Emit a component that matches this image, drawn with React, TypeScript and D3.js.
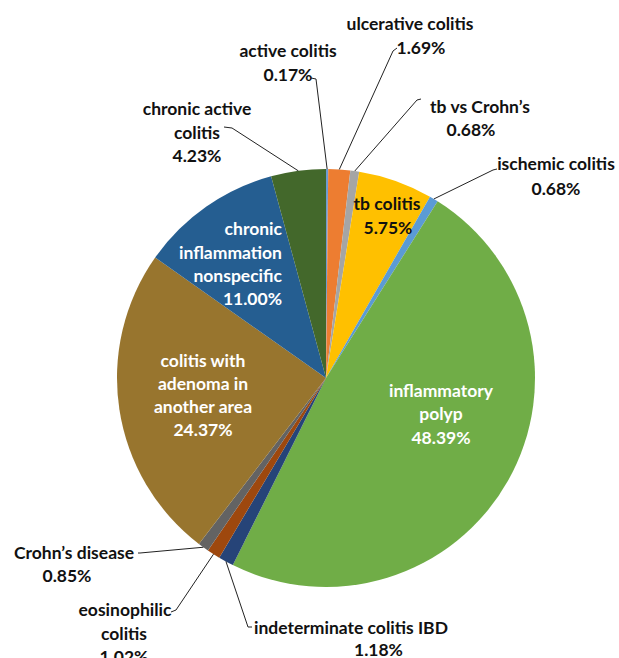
import React from "react";
import * as d3 from "d3";

const categories = [
  "active colitis",
  "ulcerative colitis",
  "tb vs Crohn’s",
  "tb colitis",
  "ischemic colitis",
  "inflammatory polyp",
  "indeterminate colitis IBD",
  "eosinophilic colitis",
  "Crohn’s disease",
  "colitis with adenoma in another area",
  "chronic inflammation nonspecific",
  "chronic active colitis",
];
const values = [0.17, 1.69, 0.68, 5.75, 0.68, 48.39, 1.18, 1.02, 0.85, 24.37, 11.0, 4.23];
const valueLabels = ["0.17%", "1.69%", "0.68%", "5.75%", "0.68%", "48.39%", "1.18%", "1.02%", "0.85%", "24.37%", "11.00%", "4.23%"];
const colors = ["#6E9BD2", "#ED7D31", "#A5A5A5", "#FFC000", "#5B9BD5", "#70AD47", "#264478", "#9E480E", "#636363", "#98752E", "#255E91", "#43682B"];

// label layout (text lines positions, leader hooks)
type Lab = {
  lines: string[];
  xs: number[];
  ys: number[];
  anchor: string;
  fill: string;
  hook?: [number, number][];
};
const layout: Lab[] = [
  { lines: ["active colitis", "0.17%"], xs: [288, 288], ys: [50, 74], anchor: "middle", fill: "#111", hook: [[311, 78], [316, 79]] },
  { lines: ["ulcerative colitis", "1.69%"], xs: [410, 421], ys: [23, 47], anchor: "middle", fill: "#111", hook: [[397, 48], [393, 51]] },
  { lines: ["tb vs Crohn’s", "0.68%"], xs: [480, 471], ys: [106, 129], anchor: "middle", fill: "#111", hook: [[421, 99], [417, 100]] },
  { lines: ["tb colitis", "5.75%"], xs: [387, 388], ys: [203, 227], anchor: "middle", fill: "#111" },
  { lines: ["ischemic colitis", "0.68%"], xs: [556, 556], ys: [163, 188], anchor: "middle", fill: "#111", hook: [[497, 169], [493, 170]] },
  { lines: ["inflammatory", "polyp", "48.39%"], xs: [441, 441, 441], ys: [390, 413, 437], anchor: "middle", fill: "#fff" },
  { lines: ["indeterminate colitis IBD", "1.18%"], xs: [254, 354], ys: [627, 649], anchor: "start", fill: "#111", hook: [[252, 627], [248, 627]] },
  { lines: ["eosinophilic", "colitis", "1.02%"], xs: [125, 124, 124], ys: [609, 633, 656], anchor: "middle", fill: "#111", hook: [[171, 612], [176, 610]] },
  { lines: ["Crohn’s disease", "0.85%"], xs: [74, 67], ys: [552, 575], anchor: "middle", fill: "#111", hook: [[138, 553], [140, 553]] },
  { lines: ["colitis with", "adenoma in", "another area", "24.37%"], xs: [203, 203, 203, 203], ys: [360, 383, 406, 429], anchor: "middle", fill: "#fff" },
  { lines: ["chronic", "inflammation", "nonspecific", "11.00%"], xs: [282, 282, 282, 282], ys: [228, 252, 275, 298], anchor: "end", fill: "#fff" },
  { lines: ["chronic active", "colitis", "4.23%"], xs: [197, 197, 197], ys: [108, 132, 155], anchor: "middle", fill: "#111", hook: [[224, 127], [232, 128]] },
];

const W = 619;
const H = 658;
const cx = 326;
const cy = 378;
const R = 209;

export default function App() {
  const pie = d3.pie<number>().sort(null).value((d) => d);
  const arcs = pie(values);
  const arcGen = d3.arc<d3.PieArcDatum<number>>().innerRadius(0).outerRadius(R);
  const edge = d3.arc<d3.PieArcDatum<number>>().innerRadius(R).outerRadius(R);

  return (
    <svg width={W} height={H} style={{ position: "absolute", left: 0, top: 0, background: "#fff" }}>
      <g transform={`translate(${cx},${cy})`}>
        {arcs.map((a, i) => (
          <path key={categories[i]} d={arcGen(a) || ""} fill={colors[i]} />
        ))}
      </g>
      {arcs.map((a, i) => {
        const lab = layout[i];
        if (!lab.hook) return null;
        const [ex, ey] = edge.centroid(a);
        const pts = [...lab.hook, [cx + ex, cy + ey]];
        return (
          <polyline
            key={"l" + i}
            points={pts.map((p) => p.join(",")).join(" ")}
            fill="none"
            stroke="#222"
            strokeWidth={1}
          />
        );
      })}
      {layout.map((lab, i) => (
        <text
          key={"t" + i}
          fontFamily="Lato, 'Open Sans', sans-serif"
          fontWeight="bold"
          fontSize={17.5}
          fill={lab.fill}
          textAnchor={lab.anchor}
          dominantBaseline="central"
        >
          {lab.lines.map((ln, j) => (
            <tspan key={j} x={lab.xs[j]} y={lab.ys[j]}>
              {j === lab.lines.length - 1 ? valueLabels[i] : ln}
            </tspan>
          ))}
        </text>
      ))}
    </svg>
  );
}
